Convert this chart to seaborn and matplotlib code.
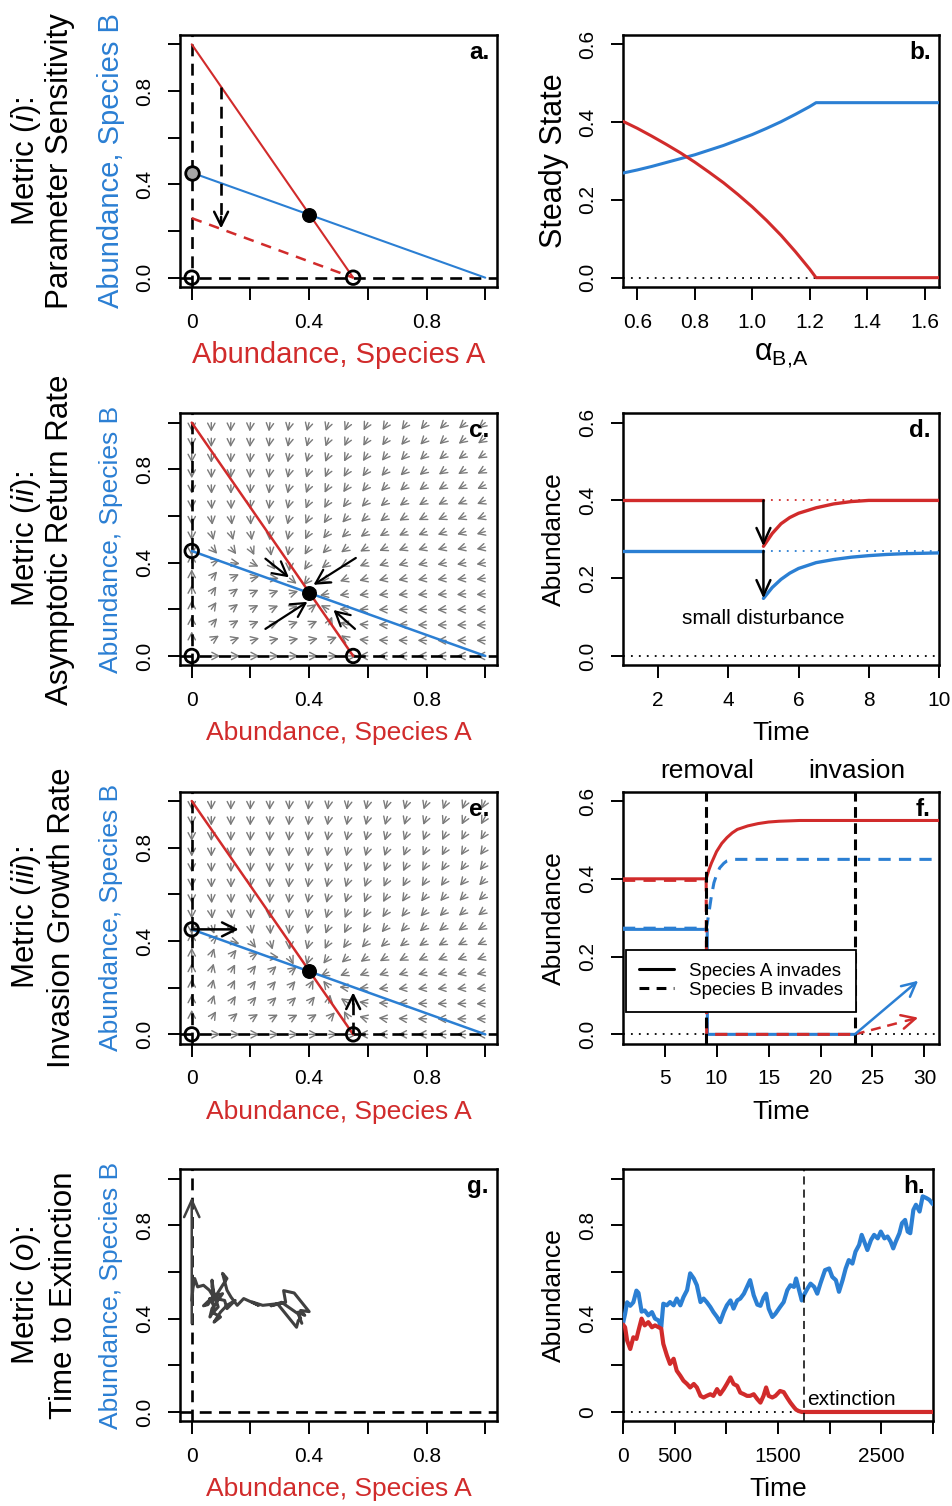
import numpy as np
import pandas as pd
import matplotlib
matplotlib.use("Agg")
import matplotlib.pyplot as plt
from matplotlib.lines import Line2D
import seaborn as sns

sns.set_theme(style="white")
plt.rcParams["font.family"] = ["Liberation Sans", "DejaVu Sans"]
plt.rcParams["mathtext.fontset"] = "custom"
plt.rcParams["mathtext.rm"] = "Liberation Sans"
plt.rcParams["mathtext.it"] = "Liberation Sans:italic"
plt.rcParams["mathtext.bf"] = "Liberation Sans:bold"
plt.rcParams["axes.unicode_minus"] = False
plt.rcParams.update({"text.color": "black", "axes.labelcolor": "black",
                     "xtick.color": "black", "ytick.color": "black"})

# ------------------------------------------------------------------ data
# phase plane (panels a, c, e, g): isoclines and equilibria
redIso_A = [0.0, 0.55]
redIso_B = [1.0, 0.0]
blueIso_A = [0.0, 1.0]
blueIso_B = [0.45, 0.0]
redShift_A = [0.0, 0.55]
redShift_B = [0.255, 0.0]
eq_A, eq_B = [0.40], [0.27]
open_A = [0.0, 0.55]
open_B = [0.0, 0.0]
bonly_A, bonly_B = [0.0], [0.45]
sens_arrow_A = 0.10
sens_arrow_B = [0.818, 0.211]

# model constants of the drawn isoclines (used for direction field)
K_A, a_AB = 0.55, 0.55
K_B, a_BA = 0.45, 0.45

# panel b: steady state vs alpha_B,A
b_alpha = [0.55, 0.60, 0.65, 0.70, 0.75, 0.80, 0.85, 0.90, 0.95, 1.00,
           1.05, 1.10, 1.15, 1.20, 1.222, 1.65]
b_ssA = [0.402, 0.384, 0.364, 0.343, 0.321, 0.297, 0.271, 0.244, 0.214, 0.182,
         0.147, 0.109, 0.067, 0.022, 0.0, 0.0]
b_ssB = [0.269, 0.277, 0.286, 0.296, 0.306, 0.316, 0.328, 0.340, 0.354, 0.368,
         0.384, 0.401, 0.420, 0.440, 0.450, 0.450]

# panel c: black arrows towards equilibrium
c_from = [(0.251, 0.417), (0.559, 0.420), (0.251, 0.116), (0.556, 0.116)]
c_to = [(0.331, 0.337), (0.415, 0.305), (0.394, 0.232), (0.483, 0.197)]

# panel d: disturbance and recovery
d_t_pre = [1.0, 5.0]
d_A_level, d_B_level = 0.40, 0.27
d_t_rec = [5.0, 5.25, 5.5, 5.75, 6.0, 6.5, 7.0, 7.5, 8.0, 8.5, 9.0, 9.5, 10.0]
d_A_rec = [0.282, 0.315, 0.340, 0.356, 0.367, 0.381, 0.391, 0.397, 0.400, 0.400,
           0.400, 0.400, 0.400]
d_B_rec = [0.148, 0.176, 0.197, 0.213, 0.225, 0.240, 0.248, 0.254, 0.258, 0.261,
           0.263, 0.264, 0.265]

# panel e: invasion arrows
e_arrow_B = ((0.0, 0.45), (0.16, 0.45))
e_arrow_A = ((0.55, 0.0), (0.55, 0.18))

# panel f: removal / invasion time series
f_removal, f_invasion = 9.0, 23.3
f_t_sA = [1.0, 9.0, 9.25, 9.5, 10.0, 10.5, 11.0, 11.5, 12.0, 13.0, 14.0, 15.0,
          16.0, 18.0, 31.4]
f_sA = [0.40, 0.40, 0.422, 0.44, 0.47, 0.491, 0.506, 0.518, 0.527, 0.536, 0.542,
        0.546, 0.548, 0.55, 0.55]
f_t_dB = [1.0, 9.0, 9.1, 9.25, 9.5, 9.75, 10.0, 10.3, 10.7, 11.0, 11.5, 12.0, 31.4]
f_dB = [0.273, 0.273, 0.285, 0.31, 0.355, 0.39, 0.41, 0.428, 0.44, 0.446, 0.45,
        0.45, 0.45]
f_t_dA = [1.0, 9.0, 9.05, 23.3]
f_dA = [0.396, 0.396, 0.0, 0.0]
f_t_sB = [1.0, 9.1, 9.12, 23.3]
f_sB = [0.27, 0.27, 0.0, 0.0]
f_inv_B_end = (29.4, 0.138)
f_inv_A_end = (29.4, 0.043)

# panels g, h: stochastic simulation
t_h = [0, 20, 40, 70, 100, 130, 150, 180, 210, 245, 280, 310, 345, 370, 390, 425,
       455, 490, 520, 555, 585, 620, 650, 685, 715, 750, 780, 810, 845, 875, 910,
       940, 975, 1005, 1040, 1070, 1105, 1135, 1170, 1200, 1230, 1265, 1300, 1330,
       1360, 1385, 1410, 1445, 1475, 1520, 1555, 1590, 1620, 1655, 1675, 1700, 1730,
       1750, 1785, 1815, 1850, 1880, 1910, 1955, 1995, 2025, 2060, 2090, 2125, 2155,
       2185, 2220, 2250, 2285, 2310, 2335, 2365, 2400, 2430, 2465, 2495, 2530, 2560,
       2590, 2615, 2640, 2675, 2700, 2730, 2755, 2780, 2810, 2835, 2870, 2900, 2935,
       2965, 2990, 3000]
b_h = [0.38, 0.42, 0.47, 0.455, 0.47, 0.52, 0.51, 0.43, 0.435, 0.414, 0.428, 0.40,
       0.392, 0.363, 0.464, 0.457, 0.471, 0.457, 0.486, 0.457, 0.492, 0.522, 0.594,
       0.572, 0.543, 0.471, 0.486, 0.471, 0.45, 0.428, 0.407, 0.385, 0.428, 0.457,
       0.478, 0.443, 0.478, 0.486, 0.507, 0.536, 0.565, 0.50, 0.46, 0.455, 0.49,
       0.507, 0.443, 0.407, 0.421, 0.45, 0.471, 0.522, 0.543, 0.536, 0.572, 0.529,
       0.478, 0.50, 0.529, 0.55, 0.536, 0.507, 0.55, 0.608, 0.615, 0.579, 0.565,
       0.515, 0.565, 0.615, 0.651, 0.636, 0.687, 0.716, 0.759, 0.73, 0.694, 0.737,
       0.759, 0.744, 0.773, 0.744, 0.752, 0.73, 0.701, 0.73, 0.766, 0.809, 0.823,
       0.773, 0.766, 0.866, 0.888, 0.859, 0.924, 0.917, 0.909, 0.895, 0.89]
a_h = [0.375, 0.363, 0.306, 0.27, 0.32, 0.313, 0.349, 0.40, 0.371, 0.385, 0.363,
       0.371, 0.363, 0.357, 0.292, 0.242, 0.206, 0.228, 0.177, 0.155, 0.134, 0.12,
       0.105, 0.12, 0.105, 0.069, 0.062, 0.069, 0.076, 0.069, 0.098, 0.076, 0.098,
       0.12, 0.148, 0.12, 0.112, 0.083, 0.076, 0.069, 0.069, 0.076, 0.055, 0.04,
       0.069, 0.105, 0.069, 0.062, 0.069, 0.09, 0.085, 0.06, 0.04, 0.02, 0.01,
       0.004, 0.0, 0.0, 0.0, 0.0, 0.0, 0.0, 0.0, 0.0, 0.0, 0.0, 0.0, 0.0, 0.0, 0.0,
       0.0, 0.0, 0.0, 0.0, 0.0, 0.0, 0.0, 0.0, 0.0, 0.0, 0.0, 0.0, 0.0, 0.0, 0.0,
       0.0, 0.0, 0.0, 0.0, 0.0, 0.0, 0.0, 0.0, 0.0, 0.0, 0.0, 0.0, 0.0, 0.0]
h_extinction = 1750
g_arrow = ((0.0, 0.38), (0.0, 0.92))

# ------------------------------------------------------------------ style
RED = "#D12B2B"
BLUE = "#2B7FD3"
GREY_FIELD = "#7A7A7A"
DARK = "#404040"
DOT = (0, (1, 3.4))
DASH = (0, (4.5, 2.8))

W, H = 953, 1506
fig = plt.figure(figsize=(W / 100, H / 100), dpi=100)
fig.patch.set_facecolor("white")

ROW_TOP = [35, 413.3, 791.7, 1169.3]
BOX_H = 252
LEFT_X = (180, 497)
RIGHT_X = (623, 939)


def make_ax(x0, x1, top):
    return fig.add_axes([x0 / W, 1 - (top + BOX_H) / H, (x1 - x0) / W, BOX_H / H])


def style_axes(ax, xlim, ylim, xticks, xlabels, yticks, ylabels, xlab, ylab,
               xcol, ycol, lab_fs, letter):
    ax.set_xlim(xlim)
    ax.set_ylim(ylim)
    ax.set_xticks(xticks)
    ax.set_xticklabels(xlabels, fontsize=15)
    ax.set_yticks(yticks)
    ax.set_yticklabels(ylabels, fontsize=15, rotation=90, va="center")
    ax.tick_params(axis="both", which="major", direction="out", length=9,
                   width=1.4, pad=9.5, color="black", labelcolor="black",
                   bottom=True, left=True, top=False, right=False)
    for s in ax.spines.values():
        s.set_visible(True)
        s.set_color("black")
        s.set_linewidth(1.8)
    ax.grid(False)
    ax.set_facecolor("white")
    ax.set_xlabel(xlab, fontsize=lab_fs, color=xcol)
    ax.set_ylabel(ylab, fontsize=lab_fs, color=ycol)
    bb = ax.get_position()
    wpx, hpx = bb.width * W, bb.height * H
    ax.xaxis.set_label_coords(0.5, -68 / hpx)
    ax.xaxis.label.set_va("center")
    ax.yaxis.set_label_coords(-69 / wpx, 0.5)
    ax.yaxis.label.set_va("center")
    ax.text(1 - 8 / wpx, 1 - 24 / hpx, letter, transform=ax.transAxes,
            ha="right", va="baseline", fontsize=17.5, fontweight="bold",
            color="black")


def arrow(ax, p0, p1, color="black", lw=1.5, hl=0.45, hw=0.25, ms=20, z=6, ls="-"):
    ax.annotate("", xy=p1, xytext=p0, zorder=z,
                arrowprops=dict(arrowstyle=f"->,head_length={hl},head_width={hw}",
                                color=color, lw=lw, ls=ls, shrinkA=0, shrinkB=0,
                                mutation_scale=ms))


LEFT_TICKS = [0, 0.2, 0.4, 0.6, 0.8, 1.0]
LEFT_XLAB = ["0", "", "0.4", "", "0.8", ""]
LEFT_YLAB = ["0.0", "", "0.4", "", "0.8", ""]
PH_LIM = (-0.04, 1.04)
SS_LIM = (-0.024, 0.624)
SS_TICKS = [0.0, 0.2, 0.4, 0.6]
SS_LAB = ["0.0", "0.2", "0.4", "0.6"]


def phase_base(ax):
    ax.axvline(0, color="black", lw=1.9, ls=DASH, zorder=2)
    ax.axhline(0, color="black", lw=1.9, ls=DASH, zorder=2)


def circles(ax, gray=False):
    ax.scatter(open_A, open_B, s=95, facecolors="none", edgecolors="black",
               linewidths=2.0, zorder=8)
    ax.scatter(bonly_A, bonly_B, s=95, facecolors="#A6A6A6" if gray else "none",
               edgecolors="black", linewidths=2.0, zorder=8)
    ax.scatter(eq_A, eq_B, s=95, color="black", zorder=8)


FIELD_GRID = np.linspace(0, 1, 16)


def draw_field(ax, rate_B):
    bb = ax.get_position()
    pxx = bb.width * W / 1.08
    pxy = bb.height * H / 1.08
    for A in FIELD_GRID:
        for B in FIELD_GRID:
            dA = A * (K_A - A - a_AB * B)
            dB = rate_B * B * (K_B - B - a_BA * A)
            vx, vy = dA * pxx, dB * pxy
            n = np.hypot(vx, vy)
            if n < 1e-9:
                continue
            L = 9.0
            arrow(ax, (A, B), (A + L * vx / n / pxx, B + L * vy / n / pxy),
                  color=GREY_FIELD, lw=1.0, hl=0.42, hw=0.22, ms=12, z=1)


# ------------------------------------------------------------------ panel a
ax = make_ax(*LEFT_X, ROW_TOP[0])
phase_base(ax)
ax.plot(redIso_A, redIso_B, color=RED, lw=1.5, zorder=3)
ax.plot(blueIso_A, blueIso_B, color=BLUE, lw=1.5, zorder=3)
ax.plot(redShift_A, redShift_B, color=RED, lw=1.8, ls=(0, (4.2, 3.2)), zorder=3)
ax.plot([sens_arrow_A] * 2, [sens_arrow_B[0], sens_arrow_B[1] + 0.03], color="black",
        lw=1.9, ls=DASH, zorder=4)
arrow(ax, (sens_arrow_A, sens_arrow_B[1] + 0.05), (sens_arrow_A, sens_arrow_B[1]),
      lw=1.8, hl=0.5, hw=0.25, ms=20)
circles(ax, gray=True)
style_axes(ax, PH_LIM, PH_LIM, LEFT_TICKS, LEFT_XLAB, LEFT_TICKS, LEFT_YLAB,
           "Abundance, Species A", "Abundance, Species B", RED, BLUE, 21, "a.")

# ------------------------------------------------------------------ panel b
ax = make_ax(*RIGHT_X, ROW_TOP[0])
ax.plot([0.55, 1.65], [0, 0], color="black", lw=1.3, ls=DOT, zorder=2)
sns.lineplot(x=b_alpha, y=b_ssB, ax=ax, color=BLUE, linewidth=2.2, zorder=3)
sns.lineplot(x=b_alpha, y=b_ssA, ax=ax, color=RED, linewidth=2.2, zorder=3)
style_axes(ax, (0.55, 1.65), SS_LIM, [0.6, 0.8, 1.0, 1.2, 1.4, 1.6],
           ["0.6", "0.8", "1.0", "1.2", "1.4", "1.6"], SS_TICKS, SS_LAB,
           r"$\mathrm{\alpha}_{\mathrm{B{,}A}}$", "Steady State", "black", "black", 22, "b.")

# ------------------------------------------------------------------ panel c
ax = make_ax(*LEFT_X, ROW_TOP[1])
style_axes(ax, PH_LIM, PH_LIM, LEFT_TICKS, LEFT_XLAB, LEFT_TICKS, LEFT_YLAB,
           "Abundance, Species A", "Abundance, Species B", RED, BLUE, 19, "c.")
draw_field(ax, 1.0)
phase_base(ax)
ax.plot(redIso_A, redIso_B, color=RED, lw=1.8, zorder=3)
ax.plot(blueIso_A, blueIso_B, color=BLUE, lw=1.8, zorder=3)
for p0, p1 in zip(c_from, c_to):
    arrow(ax, p0, p1, lw=1.6, hl=0.5, hw=0.27, ms=20)
circles(ax)

# ------------------------------------------------------------------ panel d
ax = make_ax(*RIGHT_X, ROW_TOP[1])
ax.plot([1, 10], [0, 0], color="black", lw=1.3, ls=DOT, zorder=2)
ax.plot([5, 10], [d_A_level] * 2, color=RED, lw=1.3, ls=DOT, zorder=2)
ax.plot([5, 10], [d_B_level] * 2, color=BLUE, lw=1.3, ls=DOT, zorder=2)
sns.lineplot(x=d_t_pre, y=[d_A_level] * 2, ax=ax, color=RED, linewidth=2.4, zorder=3)
sns.lineplot(x=d_t_pre, y=[d_B_level] * 2, ax=ax, color=BLUE, linewidth=2.4, zorder=3)
sns.lineplot(x=d_t_rec, y=d_A_rec, ax=ax, color=RED, linewidth=2.4, zorder=3)
sns.lineplot(x=d_t_rec, y=d_B_rec, ax=ax, color=BLUE, linewidth=2.4, zorder=3)
arrow(ax, (5, d_A_level), (5, d_A_rec[0]), lw=1.8, hl=0.55, hw=0.25, ms=20)
arrow(ax, (5, d_B_level), (5, d_B_rec[0]), lw=1.8, hl=0.55, hw=0.25, ms=20)
ax.text(5, 0.097, "small disturbance", ha="center", va="center", fontsize=15)
style_axes(ax, (1, 10), SS_LIM, [2, 4, 6, 8, 10], ["2", "4", "6", "8", "10"],
           SS_TICKS, SS_LAB, "Time", "Abundance", "black", "black", 19, "d.")

# ------------------------------------------------------------------ panel e
ax = make_ax(*LEFT_X, ROW_TOP[2])
style_axes(ax, PH_LIM, PH_LIM, LEFT_TICKS, LEFT_XLAB, LEFT_TICKS, LEFT_YLAB,
           "Abundance, Species A", "Abundance, Species B", RED, BLUE, 19, "e.")
draw_field(ax, 2.5)
phase_base(ax)
ax.plot(redIso_A, redIso_B, color=RED, lw=1.8, zorder=3)
ax.plot(blueIso_A, blueIso_B, color=BLUE, lw=1.8, zorder=3)
arrow(ax, e_arrow_B[0], e_arrow_B[1], lw=1.8, hl=0.5, hw=0.25, ms=20)
ax.plot([e_arrow_A[0][0]] * 2, [e_arrow_A[0][1], e_arrow_A[1][1] - 0.03],
        color="black", lw=1.9, ls=DASH, zorder=4)
arrow(ax, (e_arrow_A[0][0], e_arrow_A[1][1] - 0.05), e_arrow_A[1], lw=1.8,
      hl=0.5, hw=0.25, ms=20)
circles(ax)

# ------------------------------------------------------------------ panel f
ax = make_ax(*RIGHT_X, ROW_TOP[2])
ax.plot([1, 31.4], [0, 0], color="black", lw=1.3, ls=DOT, zorder=2)
sns.lineplot(x=f_t_sB, y=f_sB, ax=ax, color=BLUE, linewidth=2.2, zorder=3)
ax.plot(f_t_dA, f_dA, color=RED, lw=2.2, ls=(0, (4, 2.7)), zorder=4)
ax.plot(f_t_dB, f_dB, color=BLUE, lw=2.2, ls=(0, (4, 2.7)), zorder=3)
sns.lineplot(x=f_t_sA, y=f_sA, ax=ax, color=RED, linewidth=2.2, zorder=3)
ax.axvline(f_removal, color="black", lw=2.2, ls=(0, (3.5, 1.8)), zorder=5)
ax.axvline(f_invasion, color="black", lw=2.2, ls=(0, (3.5, 1.8)), zorder=5)
arrow(ax, (f_invasion, 0.0), f_inv_B_end, color=BLUE, lw=1.8, hl=0.5, hw=0.25, ms=20)
ax.plot([f_invasion, f_inv_A_end[0] - 1.6],
        [0.0, f_inv_A_end[1] * (1 - 1.6 / (f_inv_A_end[0] - f_invasion))],
        color=RED, lw=1.8, ls=(0, (4, 2.7)), zorder=4)
arrow(ax, (f_inv_A_end[0] - 1.2, f_inv_A_end[1] * (1 - 1.2 / (f_inv_A_end[0] - f_invasion))),
      f_inv_A_end, color=RED, lw=1.8, hl=0.5, hw=0.25, ms=20)
tr = ax.get_xaxis_transform()
ax.text(f_removal + 0.1, 1 + 14 / BOX_H, "removal", transform=tr, ha="center",
        va="baseline", fontsize=19)
ax.text(f_invasion + 0.2, 1 + 14 / BOX_H, "invasion", transform=tr, ha="center",
        va="baseline", fontsize=19)
handles = [Line2D([], [], color="black", lw=2.2),
           Line2D([], [], color="black", lw=2.2, ls=(0, (3.2, 2.4)))]
leg = ax.legend(handles, ["Species A invades", "Species B invades"], loc="upper left",
                bbox_to_anchor=(0.008, 0.373), fontsize=13.5, frameon=True,
                fancybox=False, framealpha=1, facecolor="white", edgecolor="black",
                borderpad=0.7, handlelength=1.9, handletextpad=0.8,
                labelspacing=0.1, borderaxespad=0)
leg.get_frame().set_linewidth(1.3)
leg.set_zorder(10)
style_axes(ax, (1, 31.4), SS_LIM, [5, 10, 15, 20, 25, 30],
           ["5", "10", "15", "20", "25", "30"], SS_TICKS, SS_LAB,
           "Time", "Abundance", "black", "black", 19, "f.")

# ------------------------------------------------------------------ panel g
ax = make_ax(*LEFT_X, ROW_TOP[3])
phase_base(ax)
k_ext = t_h.index(1730)
sns.lineplot(x=a_h[:k_ext + 1], y=b_h[:k_ext + 1], ax=ax, sort=False,
             estimator=None, color=DARK, linewidth=2.2, zorder=4)
arrow(ax, g_arrow[0], g_arrow[1], color=DARK, lw=1.8, hl=0.55, hw=0.25, ms=22)
style_axes(ax, PH_LIM, PH_LIM, LEFT_TICKS, LEFT_XLAB, LEFT_TICKS, LEFT_YLAB,
           "Abundance, Species A", "Abundance, Species B", RED, BLUE, 19, "g.")

# ------------------------------------------------------------------ panel h
ax = make_ax(623, 933, ROW_TOP[3])
ax.plot([0, 3000], [0, 0], color="black", lw=1.3, ls=DOT, zorder=2)
sns.lineplot(x=t_h, y=b_h, ax=ax, color=BLUE, linewidth=3.0, zorder=3)
sns.lineplot(x=t_h, y=a_h, ax=ax, color=RED, linewidth=3.0, zorder=3)
ax.axvline(h_extinction, color="black", lw=1.1, ls=(0, (5.3, 3.3)), zorder=4)
ax.text(1783, 0.055, "extinction", ha="left", va="center", fontsize=15)
style_axes(ax, (0, 3000), PH_LIM, [0, 500, 1000, 1500, 2000, 2500, 3000],
           ["0", "500", "", "1500", "", "2500", ""], LEFT_TICKS,
           ["0", "", "0.4", "", "0.8", ""], "Time", "Abundance", "black", "black", 19, "h.")

# ------------------------------------------------------------------ metric labels
metrics = [("Metric ($\\it{i}$):", "Parameter Sensitivity"),
           ("Metric ($\\it{ii}$):", "Asymptotic Return Rate"),
           ("Metric ($\\it{iii}$):", "Invasion Growth Rate"),
           ("Metric ($\\it{o}$):", "Time to Extinction")]
line2_x = [60, 60, 62, 64]
for i, (l1, l2) in enumerate(metrics):
    cy = ROW_TOP[i] + BOX_H / 2
    fig.text(26 / W, 1 - cy / H, l1, rotation=90, ha="center", va="center",
             fontsize=22.5, color="black")
    fig.text(line2_x[i] / W, 1 - cy / H, l2, rotation=90, ha="center", va="center",
             fontsize=22.5, color="black")

fig.savefig("out.png", dpi=100, facecolor="white")
